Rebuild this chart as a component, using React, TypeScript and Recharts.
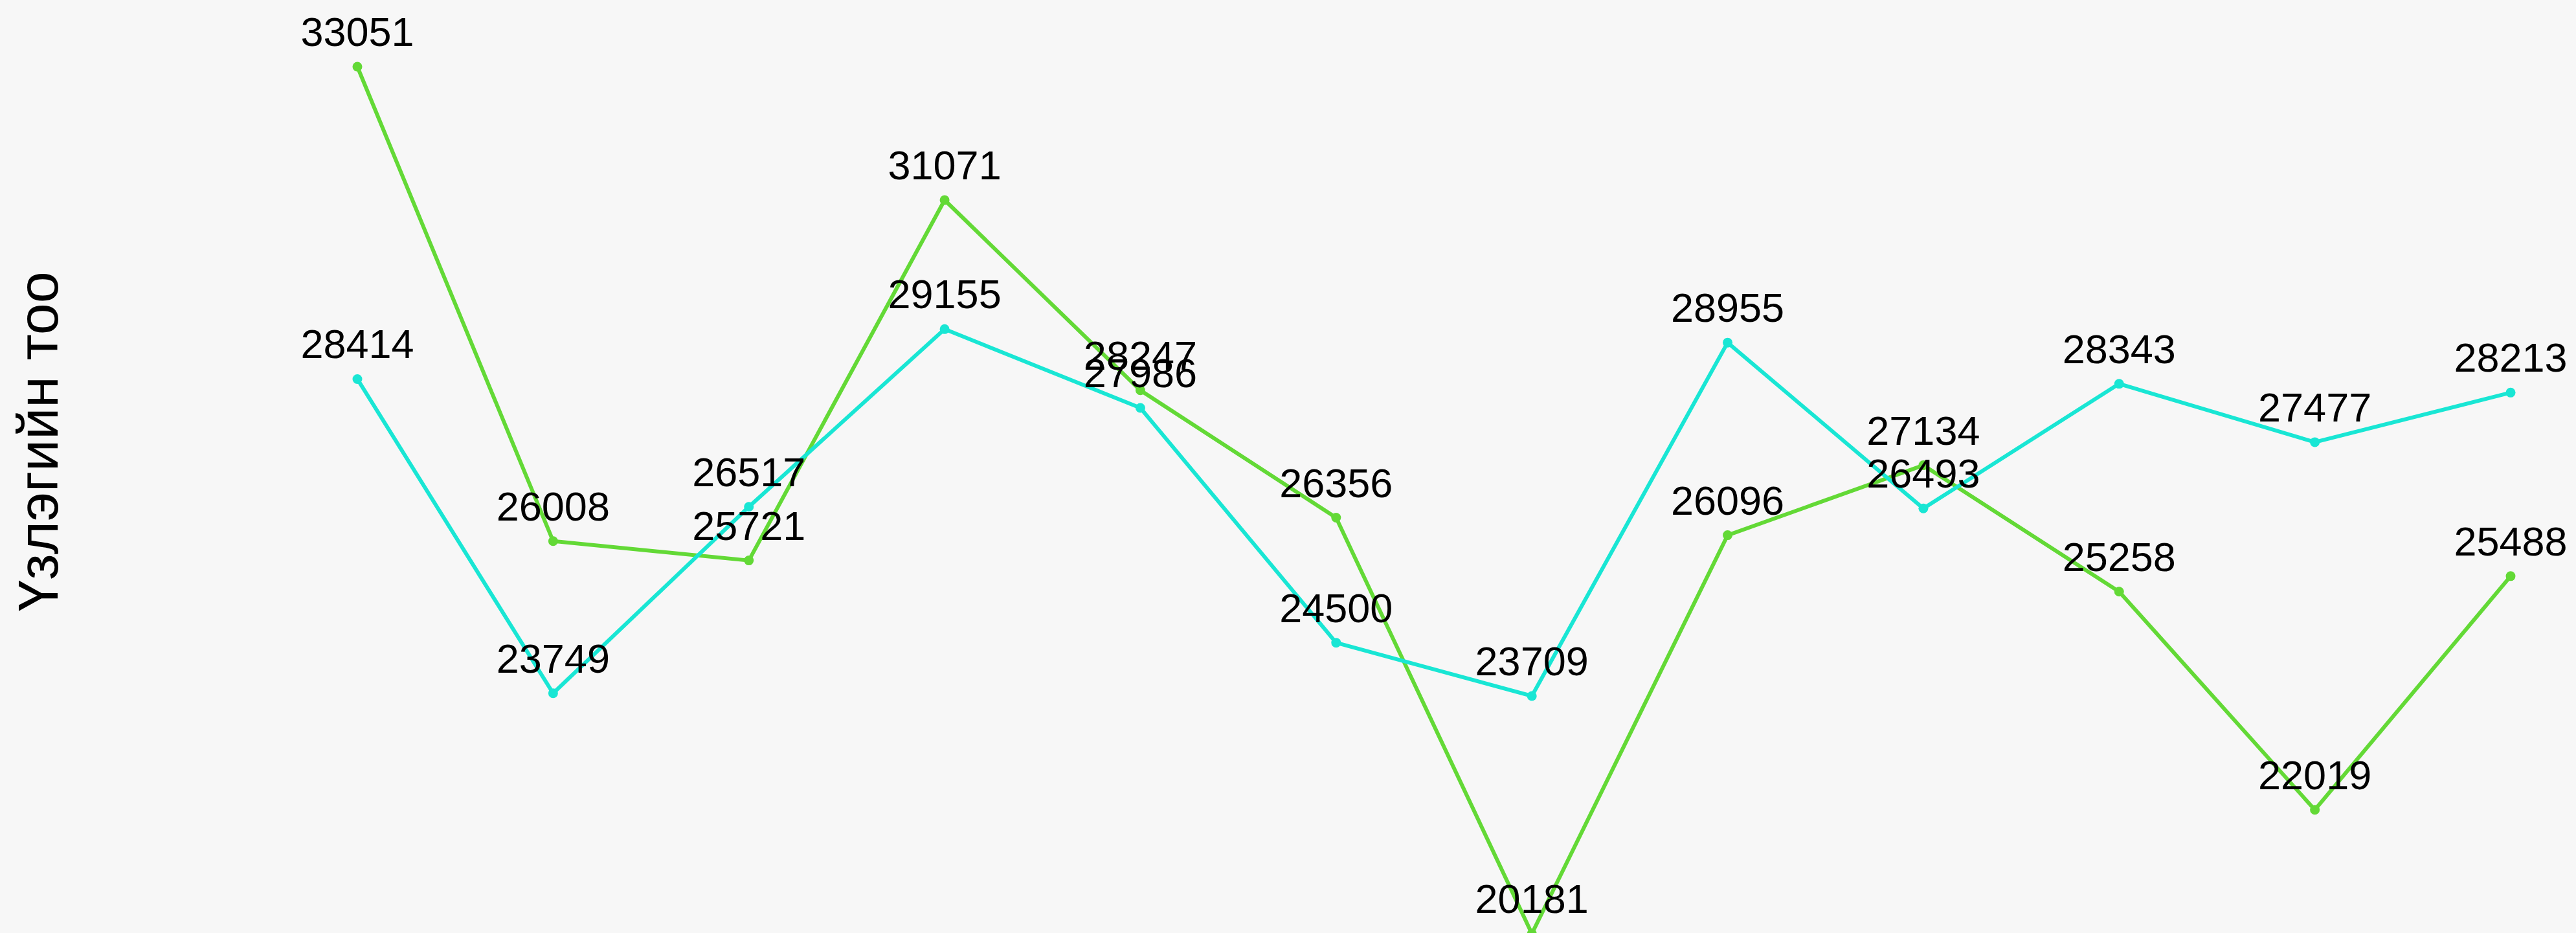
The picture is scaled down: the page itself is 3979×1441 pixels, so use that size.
import { LabelList, Line, LineChart, XAxis, YAxis } from "recharts";

const years = ["1", "2", "3", "4", "5", "6", "7", "8", "9", "10", "11", "12"];
const greenValues = [33051, 26008, 25721, 31071, 28247, 26356, 20181, 26096, 27134, 25258, 22019, 25488];
const cyanValues = [28414, 23749, 26517, 29155, 27986, 24500, 23709, 28955, 26493, 28343, 27477, 28213];
const axisTitle = "Үзлэгийн тоо";

const GREEN = "#63d936";
const CYAN = "#19e6d4";
const FONT = "'Liberation Sans', Arial, sans-serif";

const data = years.map((year, i) => ({ year, green: greenValues[i], cyan: cyanValues[i] }));
const allValues = [...greenValues, ...cyanValues];
const yDomain: [number, number] = [Math.min(...allValues), Math.max(...allValues)];

export default function App() {
  return (
    <div
      style={{
        position: "absolute",
        left: 0,
        top: 0,
        width: 3979,
        height: 1441,
        overflow: "hidden",
        background: "#f7f7f7",
      }}
    >
      <LineChart
        width={3979}
        height={1450}
        data={data}
        margin={{ top: 103, right: 101, bottom: 8, left: 552 }}
      >
        <XAxis dataKey="year" hide />
        <YAxis type="number" domain={yDomain} hide />
        <Line
          type="linear"
          dataKey="green"
          stroke={GREEN}
          strokeWidth={6}
          dot={{ r: 7.5, fill: GREEN, stroke: "none" }}
          activeDot={false}
          isAnimationActive={false}
        >
          <LabelList dataKey="green" position="top" offset={32} fontSize={63} fill="#000" fontFamily={FONT} />
        </Line>
        <Line
          type="linear"
          dataKey="cyan"
          stroke={CYAN}
          strokeWidth={6}
          dot={{ r: 7.5, fill: CYAN, stroke: "none" }}
          activeDot={false}
          isAnimationActive={false}
        >
          <LabelList dataKey="cyan" position="top" offset={32} fontSize={63} fill="#000" fontFamily={FONT} />
        </Line>
      </LineChart>
      <svg width={200} height={1441} style={{ position: "absolute", left: 0, top: 0 }}>
        <text
          x={89}
          y={682}
          transform="rotate(-90 89 682)"
          textAnchor="middle"
          fontSize={88}
          fontFamily={FONT}
          fill="#000"
        >
          {axisTitle}
        </text>
      </svg>
    </div>
  );
}
